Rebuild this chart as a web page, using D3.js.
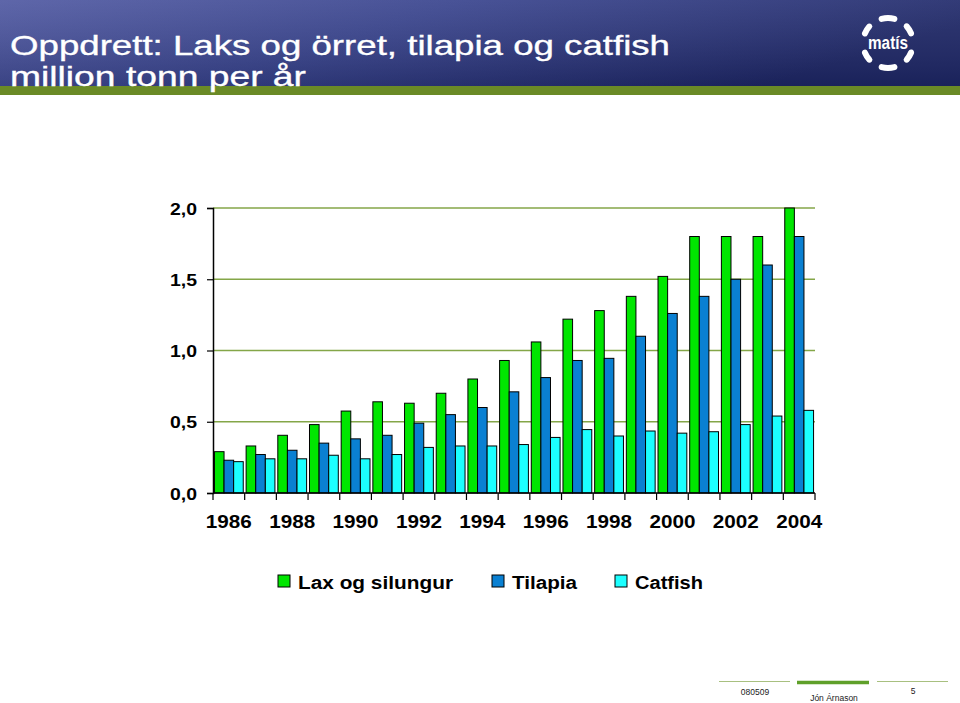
<!DOCTYPE html>
<html><head><meta charset="utf-8">
<script src="https://cdn.jsdelivr.net/npm/d3@7"></script>
<style>html,body{margin:0;padding:0;background:#fff;}svg{display:block;}</style>
</head><body>
<svg id="c" width="960" height="703"></svg>
<script>
const years = [1986,1987,1988,1989,1990,1991,1992,1993,1994,1995,1996,1997,1998,1999,2000,2001,2002,2003,2004];
const tickYears = [1986,1988,1990,1992,1994,1996,1998,2000,2002,2004];
const seriesNames = ["Lax og silungur","Tilapia","Catfish"];
const laxValues     = [0.29,0.33,0.405,0.48,0.575,0.64,0.63,0.70,0.80,0.93,1.06,1.22,1.28,1.38,1.52,1.80,1.80,1.80,2.00];
const tilapiaValues = [0.23,0.27,0.30,0.35,0.38,0.405,0.49,0.55,0.60,0.71,0.81,0.93,0.945,1.10,1.26,1.38,1.50,1.60,1.80];
const catfishValues = [0.22,0.24,0.24,0.265,0.24,0.27,0.32,0.33,0.33,0.34,0.39,0.445,0.40,0.435,0.42,0.43,0.48,0.54,0.58];
const yTicks = [0,0.5,1.0,1.5,2.0];
const titleLine1 = "Oppdrett: Laks og örret, tilapia og catfish";
const titleLine2 = "million tonn per år";
const footerDate = "080509", footerAuthor = "Jón Árnason", footerPage = "5";

const colors = ["#00e600","#0a80d2","#1cffff"];
const seriesValues = [laxValues, tilapiaValues, catfishValues];
const FONT = "'Liberation Sans',Arial,Helvetica,sans-serif";

const svg = d3.select("#c");
const defs = svg.append("defs");
const g1 = defs.append("linearGradient").attr("id","hdr").attr("x1","0").attr("x2","1").attr("y1","0").attr("y2","0.3");
g1.append("stop").attr("offset","0").attr("stop-color","#5059a2");
g1.append("stop").attr("offset","0.45").attr("stop-color","#38438d");
g1.append("stop").attr("offset","1").attr("stop-color","#1d2666");
const g2 = defs.append("linearGradient").attr("id","hdr2").attr("x1","0").attr("x2","0").attr("y1","0").attr("y2","1");
g2.append("stop").attr("offset","0").attr("stop-color","#ffffff").attr("stop-opacity","0.08");
g2.append("stop").attr("offset","1").attr("stop-color","#000000").attr("stop-opacity","0.12");

// header
svg.append("rect").attr("x",0).attr("y",0).attr("width",960).attr("height",87).attr("fill","url(#hdr)");
svg.append("rect").attr("x",0).attr("y",0).attr("width",960).attr("height",87).attr("fill","url(#hdr2)");
svg.append("rect").attr("x",0).attr("y",86).attr("width",960).attr("height",9).attr("fill","#6a8a26");
svg.append("text").attr("x",10).attr("y",55).attr("fill","#fff").attr("stroke","#fff").attr("stroke-width",0.35)
  .style("font-family",FONT).style("font-size","28px")
  .attr("textLength",660).attr("lengthAdjust","spacingAndGlyphs").text(titleLine1);
svg.append("text").attr("x",10).attr("y",86).attr("fill","#fff").attr("stroke","#fff").attr("stroke-width",0.35)
  .style("font-family",FONT).style("font-size","28px")
  .attr("textLength",296).attr("lengthAdjust","spacingAndGlyphs").text(titleLine2);

// logo
const logo = svg.append("g").attr("transform","translate(888,43)");
const arcGen = d3.arc().innerRadius(22).outerRadius(28).cornerRadius(3);
[[-0.38,0.38],[0.72,1.3],[1.84,2.42],[2.76,3.52],[3.86,4.44],[4.98,5.56]].forEach(([a,b])=>{
  logo.append("path").attr("d",arcGen({startAngle:a,endAngle:b})).attr("fill","#fff");
});
logo.append("text").attr("x",0).attr("y",6).attr("text-anchor","middle").attr("fill","#fff")
  .style("font-family",FONT).style("font-weight","bold").style("font-size","18px")
  .attr("textLength",40).attr("lengthAdjust","spacingAndGlyphs")
  .text("matís");

// chart
const x = d3.scaleBand().domain(years).range([213,815]).paddingInner(0).paddingOuter(0);
const xs = d3.scaleBand().domain(d3.range(3)).range([0,x.bandwidth()]).paddingInner(0).paddingOuter(0.15);
const y = d3.scaleLinear().domain([0,2]).range([493,208]);

// grid
svg.append("g").selectAll("line").data(yTicks.filter(d=>d>0)).join("line")
  .attr("x1",213).attr("x2",815).attr("y1",d=>y(d)).attr("y2",d=>y(d))
  .attr("stroke","#84a648").attr("stroke-width",1.5);

// bars
const groups = svg.append("g").selectAll("g").data(years).join("g")
  .attr("transform",d=>`translate(${x(d)},0)`);
groups.selectAll("rect").data((d,i)=>seriesValues.map((s,k)=>({k,v:s[i]}))).join("rect")
  .attr("x",d=>xs(d.k)).attr("width",xs.bandwidth())
  .attr("y",d=>y(d.v)).attr("height",d=>y(0)-y(d.v))
  .attr("fill",d=>colors[d.k]).attr("stroke","#000").attr("stroke-width",1);

// y axis
const yAxis = d3.axisLeft(y).tickValues(yTicks).tickSize(6).tickPadding(10)
  .tickFormat(d=>d3.format(".1f")(d).replace(".",","));
const ya = svg.append("g").attr("transform","translate(213,0)").call(yAxis);
ya.select(".domain").attr("stroke","#000").attr("stroke-width",1.5);
ya.selectAll(".tick line").attr("stroke","#000").attr("stroke-width",1.2);
ya.selectAll("text").attr("fill","#000").style("font-family",FONT)
  .style("font-size","17px").style("font-weight","bold")
  .attr("textLength",27).attr("lengthAdjust","spacingAndGlyphs").attr("dy","0.36em");

// x axis (ticks at category boundaries)
const xa = svg.append("g");
xa.append("line").attr("x1",213).attr("x2",815).attr("y1",493).attr("y2",493).attr("stroke","#000").attr("stroke-width",1.5);
const bounds = years.map(d=>x(d)).concat([x(years[years.length-1])+x.bandwidth()]);
xa.selectAll("line.t").data(bounds).join("line").attr("class","t")
  .attr("x1",d=>d).attr("x2",d=>d).attr("y1",493).attr("y2",500).attr("stroke","#000").attr("stroke-width",1.2);
xa.selectAll("text").data(tickYears).join("text")
  .attr("x",d=>x(d)+x.bandwidth()/2).attr("y",528).attr("text-anchor","middle").attr("fill","#000")
  .style("font-family",FONT).style("font-size","17.5px").style("font-weight","bold")
  .attr("textLength",46).attr("lengthAdjust","spacingAndGlyphs")
  .text(d=>d);

// legend
const legendItems = [
  {name:seriesNames[0], sx:278, tx:298, tw:155},
  {name:seriesNames[1], sx:492, tx:512, tw:65},
  {name:seriesNames[2], sx:615, tx:635, tw:68}
];
const lg = svg.append("g");
legendItems.forEach((it,k)=>{
  lg.append("rect").attr("x",it.sx).attr("y",575).attr("width",12).attr("height",12)
    .attr("fill",colors[k]).attr("stroke","#000").attr("stroke-width",1);
  lg.append("text").attr("x",it.tx).attr("y",588.5).attr("fill","#000")
    .style("font-family",FONT).style("font-size","18px").style("font-weight","bold")
    .attr("textLength",it.tw).attr("lengthAdjust","spacingAndGlyphs").text(it.name);
});

// footer
const ft = svg.append("g");
ft.append("line").attr("x1",719).attr("x2",790).attr("y1",681.5).attr("y2",681.5).attr("stroke","#a8c080").attr("stroke-width",1);
ft.append("line").attr("x1",797).attr("x2",869).attr("y1",682.5).attr("y2",682.5).attr("stroke","#5fa02a").attr("stroke-width",3.5);
ft.append("line").attr("x1",877).attr("x2",948).attr("y1",681.5).attr("y2",681.5).attr("stroke","#a8c080").attr("stroke-width",1);
const ftStyle = s=>s.style("font-family",FONT).style("font-size","8.5px").attr("fill","#222").attr("text-anchor","middle");
ft.append("text").attr("x",755).attr("y",695).call(ftStyle).text(footerDate);
ft.append("text").attr("x",834).attr("y",701).call(ftStyle).text(footerAuthor);
ft.append("text").attr("x",913).attr("y",694).call(ftStyle).text(footerPage);
</script>
</body></html>
